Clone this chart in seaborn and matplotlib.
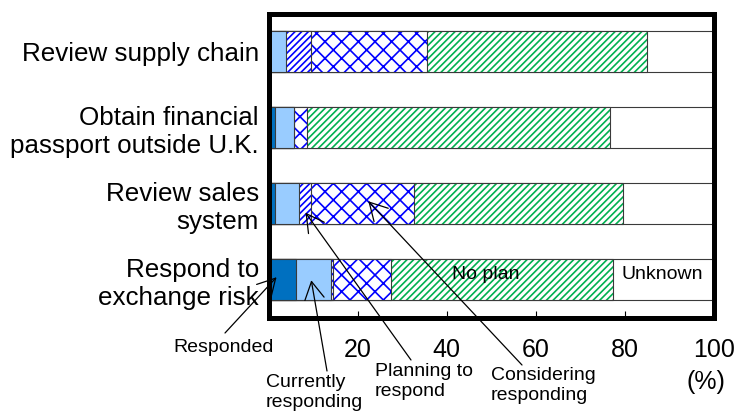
import matplotlib
matplotlib.use("Agg")
import matplotlib.pyplot as plt
import numpy as np
import seaborn as sns

sns.set_style("white")
plt.rcParams["font.family"] = ["Liberation Sans", "DejaVu Sans"]
plt.rcParams["text.color"] = "black"
plt.rcParams["hatch.linewidth"] = 1.2

# ---- data (% of firms) ----
categories = [
    "Review supply chain",
    "Obtain financial\npassport outside U.K.",
    "Review sales\nsystem",
    "Respond to\nexchange risk",
]
responded = [0.0, 1.5, 1.4, 6.2]
currently = [4.0, 4.3, 5.4, 7.8]
planning = [5.6, 0.0, 2.8, 0.5]
considering = [26.0, 2.8, 23.0, 13.0]
no_plan = [49.3, 68.0, 46.9, 49.8]
unknown = [15.1, 23.4, 20.5, 22.7]

x_ticks = [0, 20, 40, 60, 80, 100]
x_ticklabels = ["0", "20", "40", "60", "80", "100"]

series = [
    ("Responded", responded),
    ("Currently responding", currently),
    ("Planning to respond", planning),
    ("Considering responding", considering),
    ("No plan", no_plan),
    ("Unknown", unknown),
]
styles = {
    "Responded": ("#0070C0", "#0070C0", None),
    "Currently responding": ("#99CCFF", "#99CCFF", None),
    "Planning to respond": ("white", "#0000FF", "/////"),
    "Considering responding": ("white", "#0000FF", "xx"),
    "No plan": ("white", "#00B050", "/////"),
    "Unknown": ("white", "white", None),
}

W, H = 738, 417
fig = plt.figure(figsize=(W / 100, H / 100), dpi=100)
ax = fig.add_axes([268.5 / W, 1 - 317.5 / H, (714 - 268.5) / W, (317.5 - 13.5) / H])


def fpx(x, y):
    """figure-pixel position measured from the top-left corner -> figure fraction"""
    return x / W, 1 - y / H


# stacked bars: cumulative totals drawn longest first, each shorter one on top
cum = np.cumsum([vals for _, vals in series], axis=0)
for i in reversed(range(len(series))):
    name = series[i][0]
    face, hcol, hatch = styles[name]
    n0 = len(ax.patches)
    sns.barplot(x=cum[i], y=categories, orient="h", width=0.55,
                color="white", errorbar=None, ax=ax)
    for p in ax.patches[n0:]:
        p.set_facecolor(face)
        p.set_edgecolor(hcol)
        p.set_linewidth(0)
        p.set_hatch(hatch)
    n0 = len(ax.patches)
    sns.barplot(x=cum[i], y=categories, orient="h", width=0.55,
                color="white", errorbar=None, ax=ax)
    for p in ax.patches[n0:]:
        p.set_facecolor("none")
        p.set_edgecolor("#3a3a3a")
        p.set_linewidth(0.8)

ax.set_xlim(0, 100)
ax.set_ylim(3.5, -0.5)
ax.set_xlabel("")
ax.set_ylabel("")
ax.set_xticks(x_ticks)
ax.set_xticklabels(x_ticklabels)
ax.tick_params(axis="x", bottom=True, direction="in", length=5.4, width=0.8,
               color="black", pad=15, labelsize=18, labelcolor="black")
ax.tick_params(axis="y", left=False, length=0, pad=7, labelsize=18.7,
               labelcolor="black")
for s in ax.spines.values():
    s.set_visible(True)
    s.set_linewidth(3.6)
    s.set_color("black")

# in-bar labels on the bottom row
ax.text(48.8, 2.93, "No plan", fontsize=14, ha="center", va="center")
ax.text(88.4, 2.93, "Unknown", fontsize=14, ha="center", va="center")

# unit label under the axis
fig.text(*fpx(706, 382), "(%)", fontsize=18, ha="center", va="center")

# callout labels with arrows into the segments
arrow = dict(arrowstyle="->,head_length=0.9,head_width=0.5", color="black",
             lw=0.9, shrinkA=0, shrinkB=0, mutation_scale=14)
callouts = [
    # text, text anchor (px), ha, va, arrow start (px), arrow tip (data)
    ("Responded", (224, 348), "center", "center", (225, 333), (1.8, 2.97)),
    ("Currently\nresponding", (266, 374), "left", "top", (327, 371), (9.6, 3.01)),
    ("Planning to\nrespond", (375, 363), "left", "top", (411, 360), (8.3, 2.12)),
    ("Considering\nresponding", (491, 367), "left", "top", (522, 365), (22.4, 1.97)),
]
for label, tpos, ha, va, start, tip in callouts:
    ax.annotate("", xy=tip, xycoords="data", xytext=(start[0], H - start[1]),
                textcoords="figure pixels", arrowprops=arrow,
                annotation_clip=False)
    t = fig.text(*fpx(*tpos), label, fontsize=14, ha=ha, va=va)
    if label == "Responded":
        t.set_bbox(dict(facecolor="white", edgecolor="none", pad=0.5))

fig.savefig("out.png", dpi=100)
